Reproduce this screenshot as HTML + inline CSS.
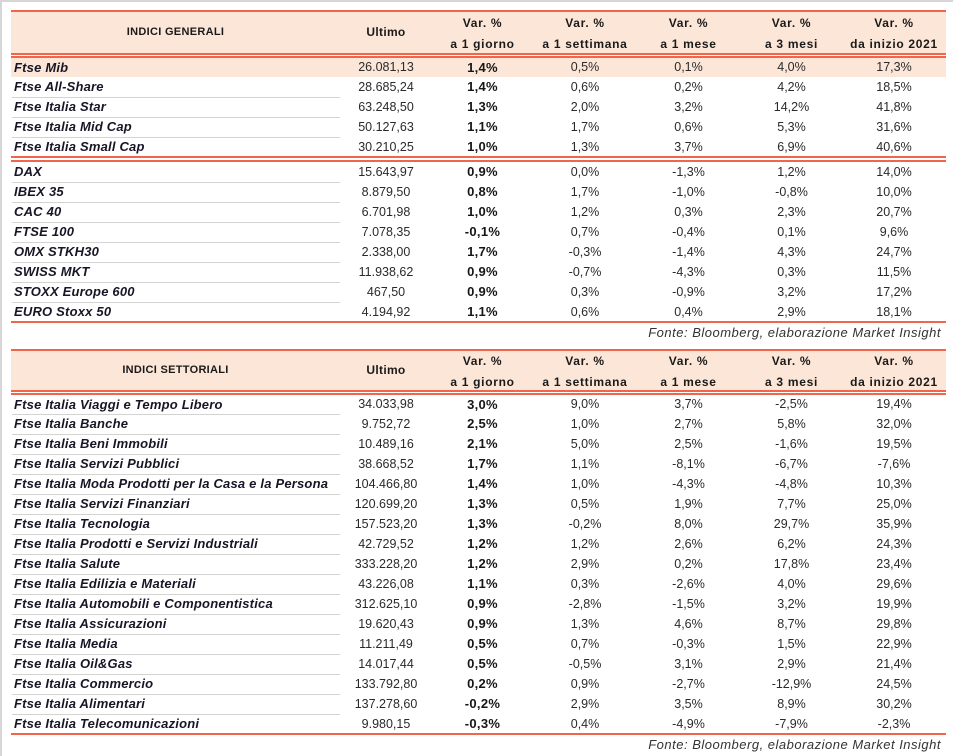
<!DOCTYPE html>
<html><head><meta charset="utf-8">
<style>
*{margin:0;padding:0;box-sizing:border-box}
html,body{width:953px;height:756px;background:#fff;overflow:hidden}
body{position:relative;font-family:"Liberation Sans",Arial,sans-serif;color:#1a1a1a}
.bt{position:absolute;left:0;top:0;width:953px;height:2px;background:#d6d6d6}
.bl{position:absolute;left:0;top:0;width:2px;height:756px;background:#d6d6d6}
.red{position:absolute;left:11px;width:935px;background:#f0654b}
.hbg{position:absolute;left:11px;width:935px;background:#fce6d7}
.r{position:absolute;left:11px;width:934px;height:20px;line-height:20px;display:flex;white-space:nowrap}
.r>div{text-align:center;font-size:12.5px;color:#2a2a2a}
.r>div:nth-child(1){width:329px;text-align:left;padding-left:3px;font-weight:bold;font-style:italic;font-size:13px;letter-spacing:0.2px;color:#161626}
.r>div:nth-child(2){width:92px}
.r>div:nth-child(3){width:101px;font-weight:bold;font-size:13px;letter-spacing:0.3px;color:#161616}
.r>div:nth-child(4){width:104px}
.r>div:nth-child(5){width:103px}
.r>div:nth-child(6){width:103px}
.r>div:nth-child(7){width:102px}
.s::after{content:"";position:absolute;left:1px;top:20px;width:328px;height:1px;background:#d3d3d3}
.s.first::after{top:19px}
.hd{position:absolute;left:11px;width:934px;display:flex;font-weight:bold;color:#1a1a1a;white-space:nowrap}
.hd>div{text-align:center;font-size:12px;letter-spacing:0.7px;line-height:21px;padding-top:1px}
.hd>div:nth-child(1){width:329px;font-size:11px;letter-spacing:0.3px;padding-top:0}
.hd>div:nth-child(2){width:92px;letter-spacing:0.3px;padding-top:0}
.hd>div:nth-child(3){width:101px}
.hd>div:nth-child(4){width:104px}
.hd>div:nth-child(5){width:103px}
.hd>div:nth-child(6){width:103px}
.hd>div:nth-child(7){width:102px}
.src{position:absolute;left:500px;width:441px;text-align:right;font-style:italic;font-size:13px;letter-spacing:0.5px;color:#333;white-space:nowrap}
</style></head><body>
<div class="bt"></div><div class="bl"></div>

<!-- TABLE 1 -->
<div class="red" style="top:10px;height:2px"></div>
<div class="hbg" style="top:12px;height:41px"></div>
<div class="hd" style="top:12px;height:41px">
  <div style="line-height:41px">INDICI GENERALI</div>
  <div style="line-height:41px">Ultimo</div>
  <div>Var. %<br>a 1 giorno</div>
  <div>Var. %<br>a 1 settimana</div>
  <div>Var. %<br>a 1 mese</div>
  <div>Var. %<br>a 3 mesi</div>
  <div>Var. %<br>da inizio 2021</div>
</div>
<div class="red" style="top:53px;height:2px"></div>
<div class="red" style="top:56px;height:2px"></div>
<div class="hbg" style="top:58px;height:19px"></div>

<div class="r" style="top:58px;height:19px;line-height:19px"><div>Ftse Mib</div><div>26.081,13</div><div>1,4%</div><div>0,5%</div><div>0,1%</div><div>4,0%</div><div>17,3%</div></div>
<div class="r s" style="top:77px"><div>Ftse All-Share</div><div>28.685,24</div><div>1,4%</div><div>0,6%</div><div>0,2%</div><div>4,2%</div><div>18,5%</div></div>
<div class="r s" style="top:97px"><div>Ftse Italia Star</div><div>63.248,50</div><div>1,3%</div><div>2,0%</div><div>3,2%</div><div>14,2%</div><div>41,8%</div></div>
<div class="r s" style="top:117px"><div>Ftse Italia Mid Cap</div><div>50.127,63</div><div>1,1%</div><div>1,7%</div><div>0,6%</div><div>5,3%</div><div>31,6%</div></div>
<div class="r" style="top:137px"><div>Ftse Italia Small Cap</div><div>30.210,25</div><div>1,0%</div><div>1,3%</div><div>3,7%</div><div>6,9%</div><div>40,6%</div></div>

<div class="red" style="top:156px;height:2px"></div>
<div class="red" style="top:160px;height:2px"></div>

<div class="r s" style="top:162px"><div>DAX</div><div>15.643,97</div><div>0,9%</div><div>0,0%</div><div>-1,3%</div><div>1,2%</div><div>14,0%</div></div>
<div class="r s" style="top:182px"><div>IBEX 35</div><div>8.879,50</div><div>0,8%</div><div>1,7%</div><div>-1,0%</div><div>-0,8%</div><div>10,0%</div></div>
<div class="r s" style="top:202px"><div>CAC 40</div><div>6.701,98</div><div>1,0%</div><div>1,2%</div><div>0,3%</div><div>2,3%</div><div>20,7%</div></div>
<div class="r s" style="top:222px"><div>FTSE 100</div><div>7.078,35</div><div>-0,1%</div><div>0,7%</div><div>-0,4%</div><div>0,1%</div><div>9,6%</div></div>
<div class="r s" style="top:242px"><div>OMX STKH30</div><div>2.338,00</div><div>1,7%</div><div>-0,3%</div><div>-1,4%</div><div>4,3%</div><div>24,7%</div></div>
<div class="r s" style="top:262px"><div>SWISS MKT</div><div>11.938,62</div><div>0,9%</div><div>-0,7%</div><div>-4,3%</div><div>0,3%</div><div>11,5%</div></div>
<div class="r s" style="top:282px"><div>STOXX Europe 600</div><div>467,50</div><div>0,9%</div><div>0,3%</div><div>-0,9%</div><div>3,2%</div><div>17,2%</div></div>
<div class="r" style="top:302px"><div>EURO Stoxx 50</div><div>4.194,92</div><div>1,1%</div><div>0,6%</div><div>0,4%</div><div>2,9%</div><div>18,1%</div></div>
<div class="red" style="top:321px;height:2px"></div>
<div class="src" style="top:323px;height:20px;line-height:20px">Fonte: Bloomberg, elaborazione Market Insight</div>

<!-- TABLE 2 -->
<div class="red" style="top:349px;height:2px"></div>
<div class="hbg" style="top:351px;height:39px"></div>
<div class="hd" style="top:350px;height:41px">
  <div style="line-height:41px">INDICI SETTORIALI</div>
  <div style="line-height:41px">Ultimo</div>
  <div>Var. %<br>a 1 giorno</div>
  <div>Var. %<br>a 1 settimana</div>
  <div>Var. %<br>a 1 mese</div>
  <div>Var. %<br>a 3 mesi</div>
  <div>Var. %<br>da inizio 2021</div>
</div>
<div class="red" style="top:390px;height:2px"></div>
<div class="red" style="top:393px;height:2px"></div>

<div class="r s first" style="top:395px;height:19px;line-height:19px"><div>Ftse Italia Viaggi e Tempo Libero</div><div>34.033,98</div><div>3,0%</div><div>9,0%</div><div>3,7%</div><div>-2,5%</div><div>19,4%</div></div>
<div class="r s" style="top:414px"><div>Ftse Italia Banche</div><div>9.752,72</div><div>2,5%</div><div>1,0%</div><div>2,7%</div><div>5,8%</div><div>32,0%</div></div>
<div class="r s" style="top:434px"><div>Ftse Italia Beni Immobili</div><div>10.489,16</div><div>2,1%</div><div>5,0%</div><div>2,5%</div><div>-1,6%</div><div>19,5%</div></div>
<div class="r s" style="top:454px"><div>Ftse Italia Servizi Pubblici</div><div>38.668,52</div><div>1,7%</div><div>1,1%</div><div>-8,1%</div><div>-6,7%</div><div>-7,6%</div></div>
<div class="r s" style="top:474px"><div>Ftse Italia Moda Prodotti per la Casa e la Persona</div><div>104.466,80</div><div>1,4%</div><div>1,0%</div><div>-4,3%</div><div>-4,8%</div><div>10,3%</div></div>
<div class="r s" style="top:494px"><div>Ftse Italia Servizi Finanziari</div><div>120.699,20</div><div>1,3%</div><div>0,5%</div><div>1,9%</div><div>7,7%</div><div>25,0%</div></div>
<div class="r s" style="top:514px"><div>Ftse Italia Tecnologia</div><div>157.523,20</div><div>1,3%</div><div>-0,2%</div><div>8,0%</div><div>29,7%</div><div>35,9%</div></div>
<div class="r s" style="top:534px"><div>Ftse Italia Prodotti e Servizi Industriali</div><div>42.729,52</div><div>1,2%</div><div>1,2%</div><div>2,6%</div><div>6,2%</div><div>24,3%</div></div>
<div class="r s" style="top:554px"><div>Ftse Italia Salute</div><div>333.228,20</div><div>1,2%</div><div>2,9%</div><div>0,2%</div><div>17,8%</div><div>23,4%</div></div>
<div class="r s" style="top:574px"><div>Ftse Italia Edilizia e Materiali</div><div>43.226,08</div><div>1,1%</div><div>0,3%</div><div>-2,6%</div><div>4,0%</div><div>29,6%</div></div>
<div class="r s" style="top:594px"><div>Ftse Italia Automobili e Componentistica</div><div>312.625,10</div><div>0,9%</div><div>-2,8%</div><div>-1,5%</div><div>3,2%</div><div>19,9%</div></div>
<div class="r s" style="top:614px"><div>Ftse Italia Assicurazioni</div><div>19.620,43</div><div>0,9%</div><div>1,3%</div><div>4,6%</div><div>8,7%</div><div>29,8%</div></div>
<div class="r s" style="top:634px"><div>Ftse Italia Media</div><div>11.211,49</div><div>0,5%</div><div>0,7%</div><div>-0,3%</div><div>1,5%</div><div>22,9%</div></div>
<div class="r s" style="top:654px"><div>Ftse Italia Oil&amp;Gas</div><div>14.017,44</div><div>0,5%</div><div>-0,5%</div><div>3,1%</div><div>2,9%</div><div>21,4%</div></div>
<div class="r s" style="top:674px"><div>Ftse Italia Commercio</div><div>133.792,80</div><div>0,2%</div><div>0,9%</div><div>-2,7%</div><div>-12,9%</div><div>24,5%</div></div>
<div class="r s" style="top:694px"><div>Ftse Italia Alimentari</div><div>137.278,60</div><div>-0,2%</div><div>2,9%</div><div>3,5%</div><div>8,9%</div><div>30,2%</div></div>
<div class="r" style="top:714px"><div>Ftse Italia Telecomunicazioni</div><div>9.980,15</div><div>-0,3%</div><div>0,4%</div><div>-4,9%</div><div>-7,9%</div><div>-2,3%</div></div>
<div class="red" style="top:733px;height:2px"></div>
<div class="src" style="top:735px;height:19px;line-height:19px">Fonte: Bloomberg, elaborazione Market Insight</div>

</body></html>
